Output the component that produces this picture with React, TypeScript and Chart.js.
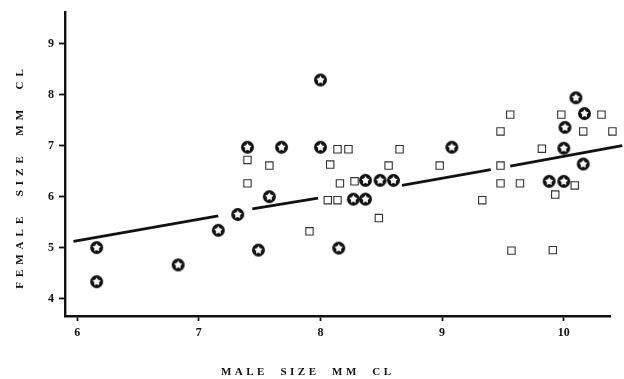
import React, { useEffect, useRef } from 'react';
import { Chart, registerables } from 'chart.js';

Chart.register(...registerables);

// ---- data ----
const X_TICKS = [6, 7, 8, 9, 10];
const Y_TICKS = [4, 5, 6, 7, 8, 9];
const X_TITLE = 'MALE SIZE MM CL';
const Y_TITLE = 'FEMALE SIZE MM CL';

// circled-star markers
const STAR_X = [6.16, 6.16, 6.83, 7.16, 7.32, 7.49, 7.58, 7.40, 7.68, 8.0, 8.0, 8.15, 8.37, 8.49, 8.60, 8.27, 8.37, 9.08, 10.10, 10.17, 10.01, 10.0, 10.16, 9.88, 10.0];
const STAR_Y = [5.0, 4.33, 4.66, 5.34, 5.65, 4.95, 6.0, 6.97, 6.97, 8.29, 6.97, 4.99, 6.32, 6.32, 6.32, 5.95, 5.95, 6.97, 7.94, 7.63, 7.36, 6.95, 6.64, 6.30, 6.30];

// open-square markers
const SQUARE_X = [7.91, 7.40, 7.58, 7.40, 8.14, 8.23, 8.08, 8.16, 8.28, 8.06, 8.14, 8.65, 8.56, 8.98, 8.48, 9.56, 9.98, 10.31, 9.48, 10.16, 10.40, 9.82, 9.48, 9.48, 9.64, 10.09, 9.93, 9.33, 9.57, 9.91];
const SQUARE_Y = [5.32, 6.72, 6.61, 6.26, 6.93, 6.93, 6.63, 6.26, 6.30, 5.93, 5.93, 6.93, 6.61, 6.61, 5.58, 7.61, 7.61, 7.61, 7.28, 7.28, 7.28, 6.94, 6.61, 6.26, 6.26, 6.22, 6.04, 5.93, 4.94, 4.95];

// fitted line (drawn in broken segments, as printed)
const FIT_X = [5.97, 7.16, 7.44, 7.98, 8.67, 9.40, 9.56, 10.48];
const FIT_Y = [5.12, 5.62, 5.76, 5.97, 6.22, 6.53, 6.60, 7.00];
const FIT_SEGMENTS = [[0, 1], [2, 3], [4, 5], [6, 7]];

const W = 624;
const H = 379;
const INK = '#111';
const SERIF = '"Liberation Serif", "DejaVu Serif", serif';

function makeStarMarker(): HTMLCanvasElement {
  const c = document.createElement('canvas');
  c.width = 15;
  c.height = 15;
  const g = c.getContext('2d')!;
  g.fillStyle = INK;
  g.beginPath();
  g.arc(7.5, 7.5, 6.5, 0, Math.PI * 2);
  g.fill();
  g.fillStyle = '#fff';
  g.beginPath();
  for (let i = 0; i < 10; i++) {
    const r = i % 2 === 0 ? 4.3 : 2.4;
    const a = -Math.PI / 2 + (i * Math.PI) / 5;
    const px = 7.5 + r * Math.cos(a);
    const py = 7.5 + r * Math.sin(a);
    if (i === 0) g.moveTo(px, py);
    else g.lineTo(px, py);
  }
  g.closePath();
  g.fill();
  return c;
}

const titlePlugin = {
  id: 'spacedTitles',
  afterDraw(chart: any) {
    const ctx = chart.ctx as CanvasRenderingContext2D;
    ctx.save();
    ctx.fillStyle = INK;
    ctx.font = `bold 11px ${SERIF}`;
    ctx.textBaseline = 'middle';
    ctx.textAlign = 'left';

    // x title
    const xs = 3.5;
    (ctx as any).letterSpacing = `${xs}px`;
    const xt = X_TITLE.split(' ').join('  ');
    const xw = ctx.measureText(xt).width - xs;
    ctx.fillText(xt, 306 - xw / 2, 372);

    // y title
    const ys = 5;
    (ctx as any).letterSpacing = `${ys}px`;
    const yt = Y_TITLE.split(' ').join('  ');
    const yw = ctx.measureText(yt).width - ys;
    ctx.translate(20, 179);
    ctx.rotate(-Math.PI / 2);
    ctx.fillText(yt, -yw / 2, 0);
    ctx.restore();
  },
};

export default function App() {
  const ref = useRef<HTMLCanvasElement | null>(null);

  useEffect(() => {
    if (!ref.current) return;
    const star = makeStarMarker();

    const lineSets = FIT_SEGMENTS.map(([a, b]) => ({
      type: 'line' as const,
      data: [
        { x: FIT_X[a], y: FIT_Y[a] },
        { x: FIT_X[b], y: FIT_Y[b] },
      ],
      borderColor: INK,
      borderWidth: 2.8,
      pointRadius: 0,
      showLine: true,
      fill: false,
      order: 5,
      clip: false as any,
    }));

    const chart = new Chart(ref.current, {
      type: 'scatter',
      data: {
        datasets: [
          {
            data: SQUARE_X.map((x, i) => ({ x, y: SQUARE_Y[i] })),
            pointStyle: 'rect',
            pointRadius: 5.2,
            borderColor: '#333',
            backgroundColor: '#fff',
            borderWidth: 1.1,
            order: 1,
            clip: false as any,
          },
          {
            data: STAR_X.map((x, i) => ({ x, y: STAR_Y[i] })),
            pointStyle: star as any,
            pointRadius: 7,
            order: 0,
            clip: false as any,
          },
          ...(lineSets as any[]),
        ],
      },
      options: {
        responsive: false,
        animation: false,
        events: [],
        layout: { padding: { top: 8, right: 14, bottom: 0, left: 0 } },
        plugins: {
          legend: { display: false },
          tooltip: { enabled: false },
          title: { display: false },
        },
        scales: {
          x: {
            type: 'linear',
            min: 5.9,
            max: 10.38,
            afterFit: (s: any) => {
              s.height = 63;
            },
            afterBuildTicks: (s: any) => {
              s.ticks = X_TICKS.map((v) => ({ value: v }));
            },
            border: { display: true, color: INK, width: 2.4 },
            grid: {
              drawOnChartArea: false,
              drawTicks: true,
              tickLength: 5,
              tickColor: INK,
              tickWidth: 1.8,
            },
            ticks: {
              color: INK,
              font: { family: SERIF, size: 12, weight: 'bold' },
              padding: 5,
              maxRotation: 0,
              callback: (v: any) => String(v),
            },
          },
          y: {
            type: 'linear',
            min: 3.657,
            max: 9.62,
            afterFit: (s: any) => {
              s.width = 65;
            },
            afterBuildTicks: (s: any) => {
              s.ticks = Y_TICKS.map((v) => ({ value: v }));
            },
            border: { display: true, color: INK, width: 2.4 },
            grid: {
              drawOnChartArea: false,
              drawTicks: true,
              tickLength: 6,
              tickColor: INK,
              tickWidth: 1.8,
            },
            ticks: {
              color: INK,
              font: { family: SERIF, size: 12, weight: 'bold' },
              padding: 5,
              callback: (v: any) => String(v),
            },
          },
        },
      },
      plugins: [titlePlugin],
    });

    return () => chart.destroy();
  }, []);

  return (
    <div style={{ position: 'fixed', left: 0, top: 0, width: W, height: H, background: '#fff' }}>
      <canvas ref={ref} width={W} height={H} style={{ display: 'block', width: W, height: H }} />
    </div>
  );
}
